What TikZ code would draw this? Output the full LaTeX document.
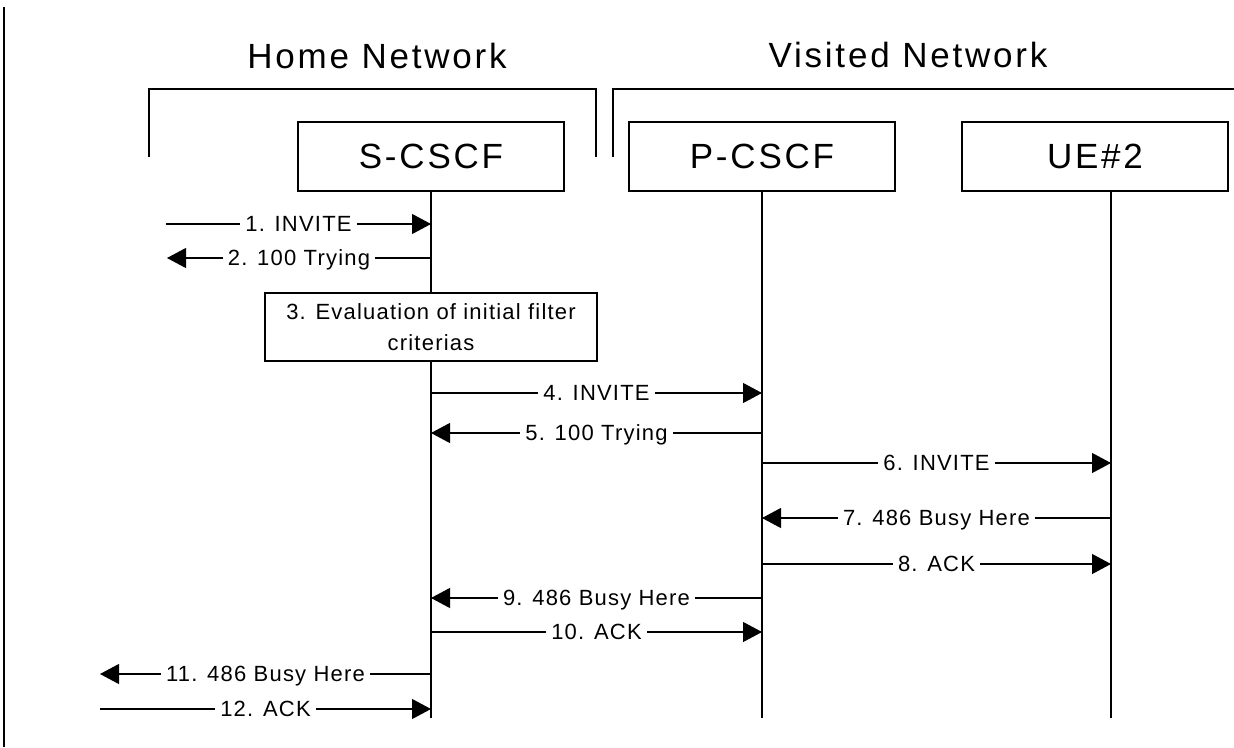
\documentclass[tikz,border=0pt]{standalone}
\usepackage{fontspec}
\setmainfont{Liberation Sans}
\newfontfamily\bigspaced[LetterSpace=8]{Liberation Sans}
\newfontfamily\smallspaced[LetterSpace=5.5]{Liberation Sans}
\usetikzlibrary{arrows.meta}
\begin{document}
\begin{tikzpicture}[x=1pt,y=-1pt,
  box/.style={draw,line width=2pt,fill=white,minimum width=266pt,minimum height=69pt,inner sep=0pt,font=\bigspaced\fontsize{35}{40}\selectfont},
  evalbox/.style={draw,line width=2pt,fill=white,minimum width=332pt,minimum height=68pt,inner sep=0pt,align=center,font=\smallspaced\fontsize{22}{31}\selectfont},
  life/.style={line width=2pt},
  msg/.style={line width=1.1pt,-{Triangle[length=19pt,width=20pt]}},
  lab/.style={fill=white,inner xsep=5pt,inner ysep=0pt,text height=15.7pt,text depth=0pt,font=\smallspaced\fontsize{22}{26}\selectfont},
  bracket/.style={line width=2pt},
  title/.style={font=\bigspaced\fontsize{35}{40}\selectfont,anchor=base}]
\useasboundingbox (0,0) rectangle (1234,747);
\draw[line width=2.5pt] (4,7) -- (4,747);
\node[title] (home) at (377,68) {Home Network};
\node[title] (visited) at (908,67) {Visited Network};
\draw[bracket] (149,157) -- (149,88.5) -- (596,88.5) -- (596,157);
\draw[bracket] (613,157) -- (613,88.5) -- (1234,88.5);
\coordinate (Sl) at (431,718);
\coordinate (Pl) at (762,718);
\coordinate (Ul) at (1111,718);
\node[box] (S) at (431,156.5) {S-CSCF};
\node[box] (P) at (762,156.5) {P-CSCF};
\node[box] (U) at (1095,156.5) {UE\#2};
\draw[life] (S.south) -- (Sl);
\draw[life] (P.south) -- (Pl);
\draw[life] (U.south -| Ul) -- (Ul);
\node[evalbox] (E) at (431,327) {3. Evaluation of initial filter\\criterias};
\coordinate (L1) at (166,224);
\coordinate (L2) at (167,258);
\coordinate (L11) at (100,674);
\coordinate (L12) at (100,709);
\draw[msg] (L1) -- (Sl |- L1) node[lab,midway] {1. INVITE};
\draw[msg] (Sl |- L2) -- (L2) node[lab,midway] {2. 100 Trying};
\draw[msg] (Sl |- 0,393) -- (Pl |- 0,393) node[lab,midway] {4. INVITE};
\draw[msg] (Pl |- 0,433) -- (Sl |- 0,433) node[lab,midway] {5. 100 Trying};
\draw[msg] (Pl |- 0,463) -- (Ul |- 0,463) node[lab,midway] {6. INVITE};
\draw[msg] (Ul |- 0,518) -- (Pl |- 0,518) node[lab,midway] {7. 486 Busy Here};
\draw[msg] (Pl |- 0,564) -- (Ul |- 0,564) node[lab,midway] {8. ACK};
\draw[msg] (Pl |- 0,598) -- (Sl |- 0,598) node[lab,midway] {9. 486 Busy Here};
\draw[msg] (Sl |- 0,632) -- (Pl |- 0,632) node[lab,midway] {10. ACK};
\draw[msg] (Sl |- L11) -- (L11) node[lab,midway] {11. 486 Busy Here};
\draw[msg] (L12) -- (Sl |- L12) node[lab,midway] {12. ACK};
\end{tikzpicture}
\end{document}
